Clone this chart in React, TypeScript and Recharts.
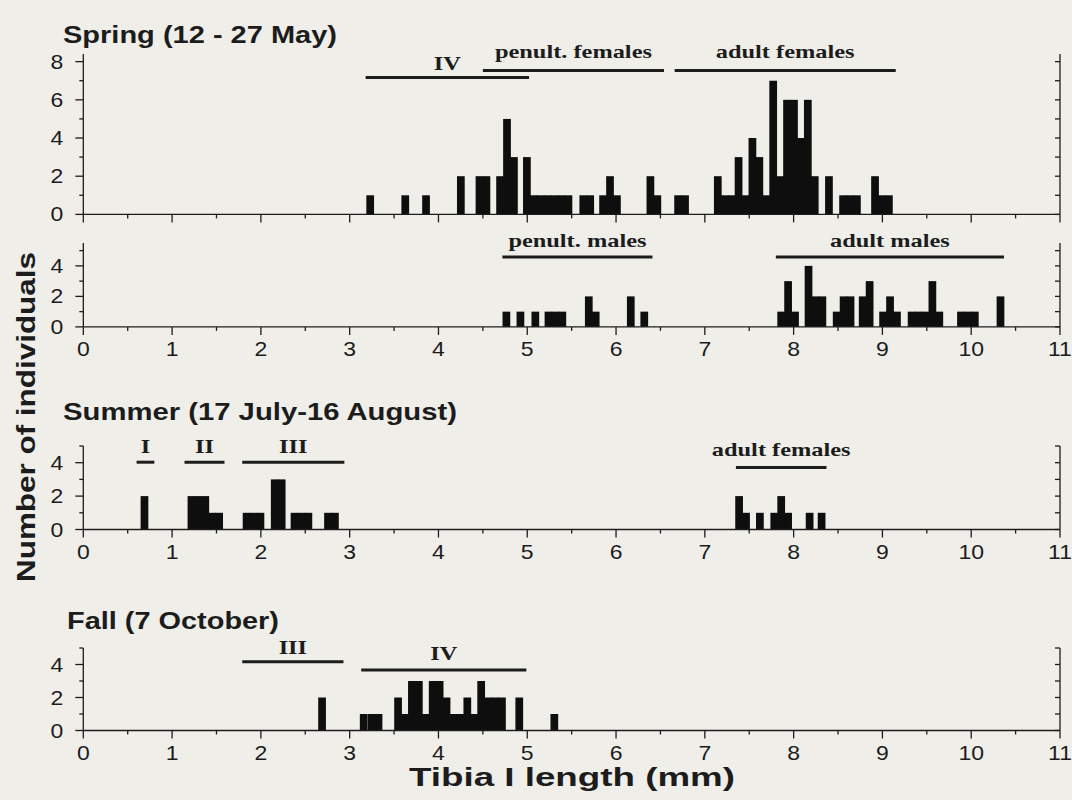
import React from "react";
import { BarChart, Bar, XAxis, YAxis, ReferenceLine } from "recharts";

// axis ticks
const xTicks = [0, 0.5, 1, 1.5, 2, 2.5, 3, 3.5, 4, 4.5, 5, 5.5, 6, 6.5, 7, 7.5, 8, 8.5, 9, 9.5, 10, 10.5, 11];
const yTicksSpring = [0, 1, 2, 3, 4, 5, 6, 7, 8];
const yTicksLow = [0, 1, 2, 3, 4, 5];

// [bin centre (mm), number of individuals]
const springFemales: [number, number][] = [
  [3.231, 1], [3.626, 1], [3.86, 1], [4.252, 2], [4.462, 2], [4.54, 2],
  [4.694, 2], [4.772, 5], [4.85, 3],
  [4.996, 3], [5.074, 1], [5.152, 1], [5.23, 1], [5.308, 1], [5.386, 1], [5.464, 1],
  [5.631, 1], [5.709, 1], [5.854, 1], [5.932, 2], [6.01, 1],
  [6.387, 2], [6.465, 1], [6.699, 1], [6.777, 1],
  [7.146, 2], [7.224, 1], [7.302, 1], [7.38, 3], [7.458, 1], [7.536, 4], [7.614, 3],
  [7.692, 1], [7.77, 7], [7.848, 2], [7.926, 6], [8.004, 6], [8.082, 4], [8.16, 6], [8.238, 2],
  [8.398, 2], [8.557, 1], [8.635, 1], [8.713, 1], [8.917, 2], [8.995, 1], [9.073, 1],
];

const springMales: [number, number][] = [
  [4.765, 1], [4.923, 1], [5.091, 1], [5.239, 1], [5.317, 1], [5.395, 1],
  [5.693, 2], [5.771, 1], [6.166, 2], [6.318, 1],
  [7.86, 1], [7.938, 3], [8.016, 1], [8.168, 4], [8.246, 2], [8.324, 2],
  [8.485, 1], [8.563, 2], [8.641, 2], [8.778, 2], [8.856, 3],
  [9.008, 1], [9.086, 2], [9.164, 1],
  [9.329, 1], [9.407, 1], [9.485, 1], [9.563, 3], [9.641, 1],
  [9.885, 1], [9.963, 1], [10.041, 1], [10.33, 2],
];

const summer: [number, number][] = [
  [0.689, 2], [1.218, 2], [1.296, 2], [1.374, 2], [1.452, 1], [1.53, 1],
  [1.839, 1], [1.917, 1], [1.995, 1], [2.156, 3], [2.234, 3],
  [2.379, 1], [2.457, 1], [2.535, 1], [2.756, 1], [2.834, 1],
  [7.386, 2], [7.464, 1], [7.62, 1], [7.782, 1], [7.86, 2], [7.938, 1], [8.18, 1], [8.315, 1],
];

const fall: [number, number][] = [
  [2.689, 2], [3.158, 1], [3.247, 1], [3.325, 1],
  [3.545, 2], [3.623, 1], [3.701, 3], [3.779, 3], [3.857, 1], [3.935, 3], [4.013, 3], [4.091, 2],
  [4.169, 1], [4.247, 1], [4.325, 2], [4.403, 1], [4.481, 3], [4.559, 2], [4.637, 2], [4.715, 2],
  [4.91, 2], [5.305, 1],
];

// stage bars: [label, from (mm), to (mm)]
const springFemaleStages: [string, number, number][] = [
  ["IV", 3.18, 5.02], ["penult. females", 4.5, 6.54], ["adult females", 6.66, 9.15],
];
const springMaleStages: [string, number, number][] = [
  ["penult. males", 4.72, 6.41], ["adult males", 7.8, 10.37],
];
const summerStages: [string, number, number][] = [
  ["I", 0.6, 0.8], ["II", 1.14, 1.59], ["III", 1.79, 2.94], ["adult females", 7.35, 8.37],
];
const fallStages: [string, number, number][] = [
  ["III", 1.79, 2.93], ["IV", 3.13, 4.99],
];

const W = 1072;
const PLOT_LEFT = 83.3;
const PLOT_RIGHT = 1060;
const PX_PER_MM = (PLOT_RIGHT - PLOT_LEFT) / 11;
const BIN = 0.078;
const BIN_PX = BIN * PX_PER_MM;
const INK = "#1c1c1c";
const BAR_INK = "#0e0e0e";
const BG = "#efeee9";
const SANS = "'Liberation Sans', Arial, Helvetica, sans-serif";
const SERIF = "'Liberation Serif', 'Times New Roman', serif";

// bars of neighbouring bins overlap a little so no seam shows between them
const BinBar = (p: any) => {
  const { x, y, height } = p;
  if (!height || height <= 0) return null;
  return <rect x={x - 0.4} y={y} width={BIN_PX + 0.8} height={height} fill={BAR_INK} />;
};

const XTick = (p: any) => {
  const { x, y, payload, showLabels } = p;
  const v = payload.value;
  const major = Number.isInteger(v);
  return (
    <g>
      <line x1={x} x2={x} y1={y} y2={y + (major ? 8 : 4)} stroke={INK} strokeWidth={1.3} />
      {showLabels && major && (
        <text
          transform={`translate(${x},${y + 29}) scale(1.15,1)`}
          textAnchor="middle"
          fontFamily={SANS}
          fontSize={20}
          fill={INK}
        >
          {v}
        </text>
      )}
    </g>
  );
};

const LeftTick = (p: any) => {
  const { x, y, payload } = p;
  const v = payload.value;
  const major = v % 2 === 0;
  return (
    <g>
      <line x1={x - (major ? 8 : 4)} x2={x} y1={y} y2={y} stroke={INK} strokeWidth={1.3} />
      {major && (
        <text
          transform={`translate(${x - 20},${y + 7}) scale(1.15,1)`}
          textAnchor="end"
          fontFamily={SANS}
          fontSize={20}
          fill={INK}
        >
          {v}
        </text>
      )}
    </g>
  );
};

const RightTick = (p: any) => {
  const { x, y } = p;
  return <line x1={x - 5} x2={x} y1={y} y2={y} stroke={INK} strokeWidth={1.3} />;
};

const StageLabel = (p: any) => {
  const { viewBox, text, lift } = p;
  if (!viewBox) return null;
  const cx = viewBox.x + viewBox.width / 2;
  const y = viewBox.y - lift;
  return (
    <text
      transform={`translate(${cx},${y}) scale(1.25,1)`}
      textAnchor="middle"
      fontFamily={SERIF}
      fontWeight="bold"
      fontSize={19.5}
      fill={INK}
    >
      {text}
    </text>
  );
};

interface PanelProps {
  bins: [number, number][];
  yMax: number;
  yTicks: number[];
  top: number;
  bottom: number;
  showLabels: boolean;
  stages: [string, number, number][];
  stageY: number[];
  stageLift: number[];
}

const Panel = ({ bins, yMax, yTicks, top, bottom, showLabels, stages, stageY, stageLift }: PanelProps) => {
  const M_TOP = 40;
  const AXIS_H = 40;
  const plotH = bottom - top;
  const rows = bins.map(([x, n]) => ({ x, n }));
  const toValue = (py: number) => ((bottom - py) / plotH) * yMax;
  return (
    <div style={{ position: "absolute", left: 0, top: top - M_TOP }}>
      <BarChart
        width={W}
        height={M_TOP + plotH + AXIS_H}
        data={rows}
        margin={{ top: M_TOP, right: 0, bottom: 0, left: 0 }}
      >
        <XAxis
          dataKey="x"
          type="number"
          domain={[0, 11]}
          ticks={xTicks}
          interval={0}
          height={AXIS_H}
          tickSize={0}
          tickMargin={0}
          tickLine={false}
          axisLine={{ stroke: INK, strokeWidth: 1.3 }}
          tick={<XTick showLabels={showLabels} />}
          allowDataOverflow
        />
        <YAxis
          yAxisId="l"
          width={PLOT_LEFT}
          domain={[0, yMax]}
          ticks={yTicks}
          interval={0}
          tickSize={0}
          tickMargin={0}
          tickLine={false}
          axisLine={{ stroke: INK, strokeWidth: 1.3 }}
          tick={<LeftTick />}
          allowDataOverflow
        />
        <YAxis
          yAxisId="r"
          orientation="right"
          width={W - PLOT_RIGHT}
          domain={[0, yMax]}
          ticks={yTicks}
          interval={0}
          tickSize={0}
          tickMargin={0}
          tickLine={false}
          axisLine={{ stroke: INK, strokeWidth: 1.3 }}
          tick={<RightTick />}
          allowDataOverflow
        />
        <Bar
          yAxisId="l"
          dataKey="n"
          fill={BAR_INK}
          barSize={BIN_PX - 0.3}
          shape={<BinBar />}
          isAnimationActive={false}
        />
        {stages.map(([label, from, to], i) => (
          <ReferenceLine
            key={label + i}
            yAxisId="l"
            segment={[
              { x: from, y: toValue(stageY[i]) },
              { x: to, y: toValue(stageY[i]) },
            ]}
            stroke={INK}
            strokeWidth={3}
            ifOverflow="visible"
            label={<StageLabel text={label} lift={stageLift[i]} />}
          />
        ))}
      </BarChart>
    </div>
  );
};

export default function App() {
  const titleProps = {
    fontFamily: SANS,
    fontWeight: "bold" as const,
    fill: INK,
    lengthAdjust: "spacingAndGlyphs" as const,
  };
  return (
    <div
      style={{
        position: "absolute",
        left: 0,
        top: 0,
        width: W,
        height: 800,
        background: BG,
        overflow: "hidden",
      }}
    >
      <Panel
        bins={springFemales}
        yMax={8.4}
        yTicks={yTicksSpring}
        top={53.6}
        bottom={214}
        showLabels={false}
        stages={springFemaleStages}
        stageY={[77, 70, 70]}
        stageLift={[7, 12, 12]}
      />
      <Panel
        bins={springMales}
        yMax={5.5}
        yTicks={yTicksLow}
        top={242.8}
        bottom={326.7}
        showLabels
        stages={springMaleStages}
        stageY={[256.7, 256.7]}
        stageLift={[10, 10]}
      />
      <Panel
        bins={summer}
        yMax={5}
        yTicks={yTicksLow}
        top={445.5}
        bottom={529}
        showLabels
        stages={summerStages}
        stageY={[461.7, 461.7, 461.7, 467]}
        stageLift={[9, 9, 9, 12]}
      />
      <Panel
        bins={fall}
        yMax={5}
        yTicks={yTicksLow}
        top={648}
        bottom={730.5}
        showLabels
        stages={fallStages}
        stageY={[661.7, 670]}
        stageLift={[8, 10]}
      />
      <svg
        width={W}
        height={800}
        style={{ position: "absolute", left: 0, top: 0, pointerEvents: "none" }}
      >
        <text x={63} y={42.5} fontSize={24.5} textLength={274} {...titleProps}>
          Spring (12 - 27 May)
        </text>
        <text x={63} y={420} fontSize={24.5} textLength={394} {...titleProps}>
          Summer (17 July-16 August)
        </text>
        <text x={67} y={629} fontSize={24.5} textLength={212} {...titleProps}>
          Fall (7 October)
        </text>
        <text
          transform="translate(35,417) rotate(-90)"
          textAnchor="middle"
          fontSize={26}
          textLength={330}
          {...titleProps}
        >
          Number of individuals
        </text>
        <text x={572} y={786} textAnchor="middle" fontSize={25} textLength={326} {...titleProps}>
          Tibia I length (mm)
        </text>
      </svg>
    </div>
  );
}
